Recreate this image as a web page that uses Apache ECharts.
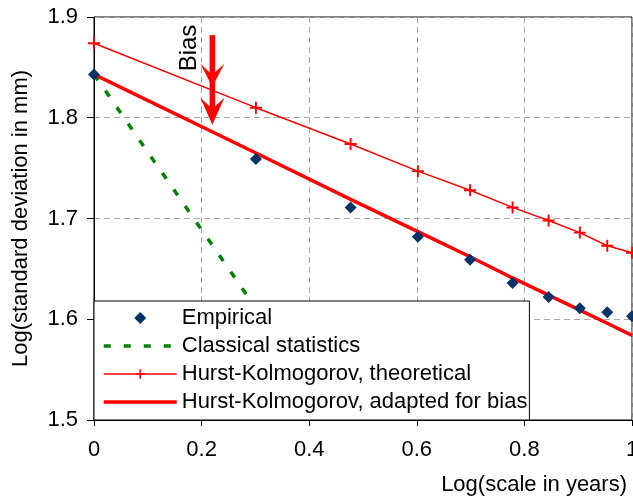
<!DOCTYPE html>
<html>
<head>
<meta charset="utf-8">
<script src="https://cdn.jsdelivr.net/npm/echarts@6/dist/echarts.min.js"></script>
<style>
  html, body { margin: 0; padding: 0; background: #fff; }
  #chart { width: 633px; height: 497px; }
</style>
</head>
<body>
<div id="chart"></div>
<script>
// log10 of the averaging scale (years 1..10)
const logScale = [0, 0.301, 0.477, 0.602, 0.699, 0.778, 0.845, 0.903, 0.954, 1.0];

// log10 of the standard deviation (mm)
const empirical   = [1.843, 1.759, 1.711, 1.682, 1.659, 1.636, 1.622, 1.611, 1.607, 1.603];
const classical   = [1.843, 1.611, 1.457];
const hkTheory    = [1.874, 1.810, 1.774, 1.747, 1.728, 1.711, 1.698, 1.686, 1.673, 1.666];
const hkAdapted   = [1.843, 1.765, 1.719, 1.687, 1.662, 1.641, 1.624, 1.609, 1.596, 1.584];

const seriesNames = [
  'Empirical',
  'Classical statistics',
  'Hurst-Kolmogorov, theoretical',
  'Hurst-Kolmogorov, adapted for bias'
];

const xTicks = { min: 0, max: 1, step: 0.2 };
const yTicks = { min: 1.5, max: 1.9, step: 0.1 };

// Bias annotation: arrow from the theoretical line down to the adapted one
const biasArrow = { x: 0.22, from: 1.882, to: 1.793 };

const FONT = '"Liberation Sans", Arial, sans-serif';
const pairs = ys => ys.map((y, i) => [logScale[i], y]);
const PLUS = 'path://M4.2,0H5.8V4.2H10V5.8H5.8V10H4.2V5.8H0V4.2H4.2Z';
const DIAMOND = 'path://M5,0L10,5L5,10L0,5Z';

const green = { color: '#008000', width: 3.5, type: [7, 13] };
const thinRed = { color: '#ff0000', width: 1.5 };
const thickRed = { color: '#ff0000', width: 3.5 };

const chart = echarts.init(document.getElementById('chart'), null, { renderer: 'canvas' });

const gridLine = { show: true, lineStyle: { color: '#a6a6a6', width: 1, type: [6, 4] } };
const hiddenMarker = { opacity: 0 };

chart.setOption({
  animation: false,
  backgroundColor: '#fff',
  grid: {
    left: 94, right: 1, top: 17, bottom: 77,
    outerBoundsMode: 'none', containLabel: false,
    show: true, borderColor: '#000', borderWidth: 1, backgroundColor: 'transparent'
  },
  xAxis: {
    type: 'value', min: xTicks.min, max: xTicks.max, interval: xTicks.step,
    axisLine: { show: true, lineStyle: { color: '#000', width: 1 } },
    axisTick: { show: true, length: 6, lineStyle: { color: '#000' } },
    axisLabel: { color: '#000', fontSize: 22, fontFamily: FONT, margin: 19,
      formatter: v => String(Math.round(v * 10) / 10) },
    splitLine: gridLine
  },
  yAxis: {
    type: 'value', min: yTicks.min, max: yTicks.max, interval: yTicks.step,
    axisLine: { show: true, lineStyle: { color: '#000', width: 1 } },
    axisTick: { show: true, length: 7, lineStyle: { color: '#000' } },
    axisLabel: { color: '#000', fontSize: 22, fontFamily: FONT, margin: 16,
      formatter: v => v.toFixed(1) },
    splitLine: gridLine,
    name: 'Log(standard deviation in mm)',
    nameLocation: 'middle', nameGap: 62,
    nameTextStyle: { color: '#000', fontSize: 22, fontFamily: FONT }
  },
  legend: {
    orient: 'vertical', left: 94, top: 301,
    padding: [6, 2, 7, 8], itemGap: 6, itemWidth: 73, itemHeight: 12,
    backgroundColor: '#fff', borderColor: '#000', borderWidth: 1,
    symbolKeepAspect: true,
    textStyle: { color: '#000', fontSize: 22, fontFamily: FONT },
    data: [
      { name: seriesNames[0], icon: DIAMOND },
      { name: seriesNames[1], itemStyle: hiddenMarker, lineStyle: green },
      { name: seriesNames[2], lineStyle: thinRed },
      { name: seriesNames[3], itemStyle: hiddenMarker, lineStyle: thickRed }
    ]
  },
  series: [
    {
      name: seriesNames[1], type: 'line', data: pairs(classical),
      symbol: 'none', color: '#008000', z: 2,
      lineStyle: green
    },
    {
      name: seriesNames[2], type: 'line', data: pairs(hkTheory),
      symbol: PLUS, symbolSize: 12, showSymbol: true, color: '#ff0000', z: 3,
      itemStyle: { color: '#ff0000' },
      lineStyle: thinRed
    },
    {
      name: seriesNames[3], type: 'line', data: pairs(hkAdapted),
      symbol: 'none', color: '#ff0000', z: 3,
      lineStyle: thickRed
    },
    {
      name: seriesNames[0], type: 'scatter', data: pairs(empirical),
      symbol: 'diamond', symbolSize: 12, color: '#003366', z: 5,
      itemStyle: { color: '#003366', opacity: 1 }
    }
  ]
});

// Annotation and axis title, placed from the axis scales
const arrowStart = chart.convertToPixel({ gridIndex: 0 }, [biasArrow.x, biasArrow.from]);
const arrowTip = chart.convertToPixel({ gridIndex: 0 }, [biasArrow.x, biasArrow.to]);
const cx = arrowTip[0];
const head = (tipY, len, half) => ({
  type: 'polygon', z: 10,
  shape: { points: [[cx, tipY], [cx - half, tipY - len], [cx, tipY - len + 11], [cx + half, tipY - len]] },
  style: { fill: '#ff0000' }
});

chart.setOption({
  graphic: [
    { type: 'rect', z: 10, shape: { x: cx - 2.8, y: arrowStart[1], width: 5.6, height: arrowTip[1] - arrowStart[1] - 8 }, style: { fill: '#ff0000' } },
    head(arrowTip[1] - 38, 23, 12),
    head(arrowTip[1], 27, 12),
    { type: 'text', z: 10, x: cx - 23, y: 48, rotation: Math.PI / 2,
      style: { text: 'Bias', fill: '#000', font: '24px ' + FONT, align: 'center', verticalAlign: 'middle' } },
    { type: 'text', z: 10, x: 627, y: 485,
      style: { text: 'Log(scale in years)', fill: '#000', font: '22px ' + FONT, align: 'right', verticalAlign: 'middle' } }
  ]
});
</script>
</body>
</html>
